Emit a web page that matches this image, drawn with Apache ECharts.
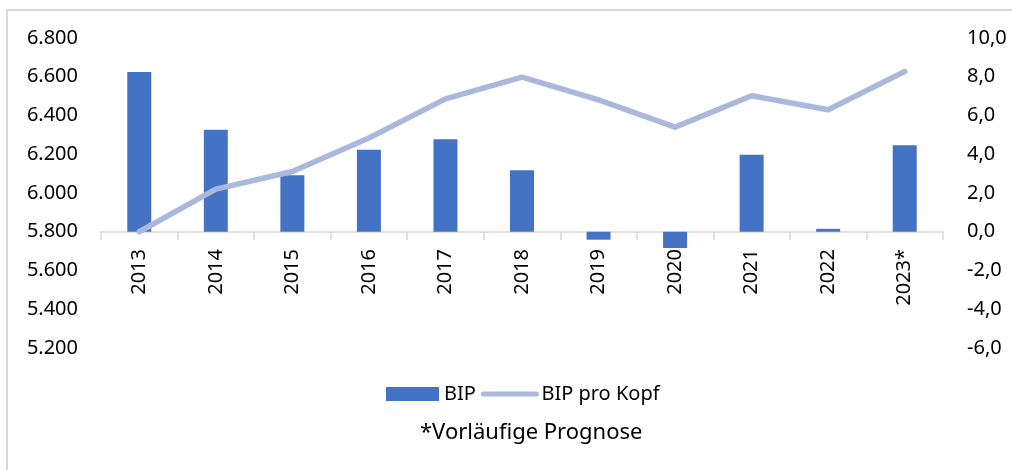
<!--
    BIP / BIP pro Kopf 2013-2023
-->
<meta charset="UTF-8">
<script src="https://cdn.jsdelivr.net/npm/echarts@6/dist/echarts.min.js"></script>
<style>
    body { margin: 0; background: #ffffff; }
    #frame { position: absolute; left: 6px; top: 9px; width: 1100px; height: 600px;
             border-left: 2px solid #d9d9d9; border-top: 2px solid #d9d9d9; }
    #bip { position: absolute; left: 0; top: 0; width: 1012px; height: 470px; }
</style>

<div id="frame"></div>
<div id="bip"></div>

<script>
    /*Daten*/
    var years = ['2013', '2014', '2015', '2016', '2017', '2018', '2019', '2020', '2021', '2022', '2023*'];
    var bipValues = [8.24, 5.26, 2.92, 4.23, 4.78, 3.17, -0.41, -0.84, 3.97, 0.15, 4.46];
    var bipProKopfValues = [5800, 6020, 6111, 6284, 6486, 6598, 6481, 6340, 6502, 6430, 6627];
    var leftTicks = [5200, 6800, 200];
    var rightTicks = [-6, 10, 2];

    var fontFamily = '"Noto Sans", sans-serif';

    var chart = function () {
        var bipChart = echarts.init(document.getElementById('bip'));
        var bipOption = {
            backgroundColor: 'transparent',
            animation: false,
            textStyle: { fontFamily: fontFamily },
            title: {
                text: '*Vorläufige Prognose',
                left: 420,
                top: 422,
                padding: 0,
                textStyle: { fontSize: 22, fontWeight: 'normal', color: '#000', fontFamily: fontFamily }
            },
            legend: {
                left: 386,
                top: 384,
                padding: 0,
                itemWidth: 53,
                itemHeight: 14,
                itemGap: 5,
                textStyle: { fontSize: 20, color: '#000', fontFamily: fontFamily },
                data: [
                    { name: 'BIP', icon: 'rect' },
                    { name: 'BIP pro Kopf', itemStyle: { opacity: 0 }, lineStyle: { width: 5, cap: 'round' } }
                ]
            },
            grid: {
                left: 101,
                right: 69,
                top: 38,
                bottom: 122
            },
            xAxis: {
                type: 'category',
                data: years,
                boundaryGap: true,
                offset: -116,
                axisLine: { onZero: false, lineStyle: { color: '#d9d9d9', width: 1.5 } },
                axisTick: { show: true, length: 8, alignWithLabel: false, lineStyle: { color: '#d9d9d9', width: 1.5 } },
                axisLabel: { rotate: 90, margin: 17, fontSize: 20, color: '#000', fontFamily: fontFamily }
            },
            yAxis: [{
                type: 'value',
                min: leftTicks[0],
                max: leftTicks[1],
                interval: leftTicks[2],
                axisLine: { show: false },
                axisTick: { show: false },
                splitLine: { show: false },
                axisLabel: {
                    margin: 23,
                    fontSize: 20,
                    color: '#000',
                    fontFamily: fontFamily,
                    formatter: function (v) {
                        return String(v).replace(/\B(?=(\d{3})+(?!\d))/g, '.');
                    }
                }
            }, {
                type: 'value',
                min: rightTicks[0],
                max: rightTicks[1],
                interval: rightTicks[2],
                axisLine: { show: false },
                axisTick: { show: false },
                splitLine: { show: false },
                axisLabel: {
                    margin: 24,
                    fontSize: 20,
                    color: '#000',
                    fontFamily: fontFamily,
                    formatter: function (v) {
                        return v.toFixed(1).replace('.', ',');
                    }
                }
            }],
            series: [{
                name: 'BIP',
                type: 'bar',
                yAxisIndex: 1,
                barWidth: 24,
                data: bipValues,
                itemStyle: { color: '#4472c4' }
            }, {
                name: 'BIP pro Kopf',
                type: 'line',
                yAxisIndex: 0,
                data: bipProKopfValues,
                symbol: 'none',
                lineStyle: { color: '#a9b8dc', width: 5.5, cap: 'round', join: 'round' },
                itemStyle: { color: '#a9b8dc' },
                z: 3
            }]
        };
        bipChart.setOption(bipOption);

        window.addEventListener("resize", function () {
            bipChart.resize();
        });
    };

    chart();
</script>
